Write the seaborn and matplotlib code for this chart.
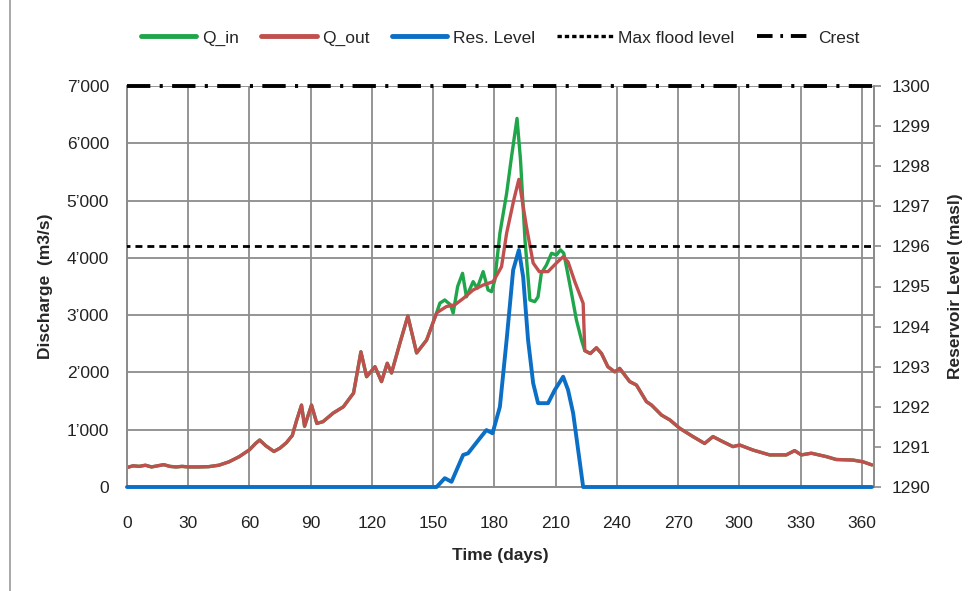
import matplotlib
matplotlib.use("Agg")
import matplotlib.pyplot as plt
from matplotlib.lines import Line2D
import seaborn as sns
import pandas as pd

# ---------------- data ----------------
out_days = [0, 3, 6, 9, 12, 15, 18, 21, 24, 27, 30, 35, 40, 45, 50, 55, 60, 63, 65, 68,
            72, 75, 78, 81, 83, 85.5, 87, 90.4, 93, 96, 101, 106, 111, 114.6, 117.4, 121.5,
            124.7, 127.5, 129.6, 133.7, 137.6, 141.9, 146.8, 151.7, 156.5, 160.6, 164.7,
            169.6, 174.5, 179.4, 183.5, 186, 189.5, 192, 195.7, 199, 202, 206.3, 210.4,
            213.7, 216.1, 219.4, 223.5, 224.3, 227, 230, 232.5, 235.6, 239, 241.4, 246.3,
            249.6, 254.5, 257, 261.9, 266, 270.8, 277.3, 283, 287.1, 292, 296.9, 300.2,
            306.7, 314.9, 323, 327.1, 330.4, 335.3, 342.7, 347.5, 355.7, 360.6, 365]
q_out = [340, 370, 360, 380, 350, 370, 390, 360, 350, 360, 350, 350, 355, 380, 440, 530,
         650, 760, 820, 720, 620, 680, 770, 900, 1150, 1430, 1060, 1430, 1110, 1140, 1290,
         1400, 1640, 2360, 1925, 2100, 1840, 2160, 1990, 2510, 2985, 2340, 2565, 3040, 3150,
         3180, 3290, 3440, 3525, 3585, 3845, 4430, 5010, 5370, 4545, 3910, 3760, 3760, 3910,
         4020, 3930, 3585, 3205, 2380, 2330, 2430, 2330, 2100, 2010, 2070, 1840, 1780, 1490,
         1430, 1255, 1170, 1025, 880, 760, 880, 790, 705, 733, 645, 560, 560, 635, 560, 590,
         530, 480, 470, 440, 385]

flood_days = [151.7, 153.3, 155.7, 158.5, 159.8, 162, 164.4, 166.3, 169.6, 171.6, 174.5,
              176.9, 178.6, 180.2, 182.7, 186, 188.4, 191.1, 192.8, 195, 197.4, 199.8,
              201.4, 203, 205.5, 208, 210.4, 212.4, 214, 215.3, 217.8, 220.2, 222.7, 224.3]
q_in_flood = [3040, 3210, 3265, 3180, 3035, 3500, 3730, 3320, 3585, 3470, 3760, 3440, 3410,
              3610, 4430, 5125, 5765, 6435, 5710, 4310, 3265, 3235, 3320, 3730, 3875, 4080,
              4050, 4140, 4080, 3845, 3380, 2915, 2565, 2380]

lvl_days = [0, 151.7, 155.7, 159, 164.7, 167.1, 172.8, 176.1, 179.1, 182.7, 186, 189.2,
            192, 194.1, 196.5, 199, 201.4, 206.3, 209.6, 213.7, 216.1, 218.6, 223.5, 365]
res_level = [1290, 1290, 1290.22, 1290.13, 1290.8, 1290.84, 1291.21, 1291.42, 1291.34,
             1292.0, 1293.67, 1295.41, 1295.91, 1295.24, 1293.67, 1292.59, 1292.09,
             1292.09, 1292.42, 1292.75, 1292.42, 1291.84, 1290.0, 1290]

max_flood_level = 1296
crest_level = 1300

x_ticks = list(range(0, 361, 30))
q_ticks = list(range(0, 7001, 1000))
q_tick_labels = ["0", "1’000", "2’000", "3’000", "4’000", "5’000", "6’000", "7’000"]
lvl_ticks = list(range(1290, 1301))

# Q_in equals Q_out outside the flood window
q_in_days = [d for d in out_days if d < flood_days[0]] + flood_days + \
            [d for d in out_days if d > flood_days[-1]]
q_in = [v for d, v in zip(out_days, q_out) if d < flood_days[0]] + q_in_flood + \
       [v for d, v in zip(out_days, q_out) if d > flood_days[-1]]

df_in = pd.DataFrame({"day": q_in_days, "q": q_in})
df_out = pd.DataFrame({"day": out_days, "q": q_out})
df_lvl = pd.DataFrame({"day": lvl_days, "lvl": res_level})

# ---------------- style ----------------
sns.set_style("white")
plt.rcParams["font.family"] = ["Liberation Sans", "DejaVu Sans"]

GREEN = "#1fa64a"
RED = "#c0504d"
BLUE = "#0b6fc6"
GRID = "#8c8c8c"
FS = 12.5

fig = plt.figure(figsize=(9.71, 5.91), dpi=100)
ax = fig.add_axes([127 / 971, 1 - 487 / 591, (874 - 127) / 971, (487 - 86) / 591])
ax2 = ax.twinx()

sns.lineplot(data=df_in, x="day", y="q", ax=ax, color=GREEN, lw=2.4, estimator=None)
sns.lineplot(data=df_out, x="day", y="q", ax=ax, color=RED, lw=2.4, estimator=None)

ax.set_xlim(0, 366)
ax.set_ylim(0, 7000)
ax.set_xticks(x_ticks)
ax.set_yticks(q_ticks)
ax.set_yticklabels(q_tick_labels)
ax.grid(True, color=GRID, lw=1.3)
ax.set_axisbelow(True)
ax.tick_params(axis="x", length=0, labelsize=FS, colors="#222222", pad=21)
ax.tick_params(axis="y", length=0, labelsize=FS, colors="#222222", pad=13)
ax.set_xlabel("Time (days)", fontsize=FS, fontweight="bold", labelpad=12)
ax.set_ylabel("Discharge  (m3/s)", fontsize=FS, fontweight="bold", labelpad=10)
for s in ["left", "right", "top", "bottom"]:
    ax.spines[s].set_color(GRID)
    ax.spines[s].set_linewidth(1.3)

sns.lineplot(data=df_lvl, x="day", y="lvl", ax=ax2, color=BLUE, lw=2.8, estimator=None)
for l in ax2.lines:
    l.set_clip_on(False)
    l.set_zorder(4)
ax2.axhline(max_flood_level, color="black", lw=2.0, ls=(0, (2.5, 1.8)), xmin=-0.005, zorder=5)
ax2.axhline(crest_level, color="black", lw=2.8, ls=(0, (6.0, 2.4, 0.8, 2.4)),
            clip_on=False, zorder=5)
ax2.set_ylim(1290, 1300)
ax2.set_yticks(lvl_ticks)
ax2.set_ylabel("Reservoir Level (masl)", fontsize=FS, fontweight="bold", labelpad=12)
ax2.tick_params(axis="y", length=5, width=1.2, labelsize=FS, pad=8)
ax2.tick_params(axis="y", labelcolor="#222222", color=GRID)
ax2.grid(False)
ax2.spines["top"].set_visible(False)
ax.spines["top"].set_visible(False)
for s in ["left", "right", "bottom"]:
    ax2.spines[s].set_color(GRID)
    ax2.spines[s].set_linewidth(1.3)

# legend
handles = [
    Line2D([], [], color=GREEN, lw=3.5),
    Line2D([], [], color=RED, lw=3.5),
    Line2D([], [], color=BLUE, lw=3.5),
    Line2D([], [], color="black", lw=2.4, ls=(0, (1.3, 0.9))),
    Line2D([], [], color="black", lw=2.8, ls=(0, (4.0, 2.0, 0.7, 2.0))),
]
labels = ["Q_in", "Q_out", "Res. Level", "Max flood level", "Crest"]
fig.legend(handles, labels, loc="center", bbox_to_anchor=(500 / 971, 1 - 38 / 591),
           ncol=5, frameon=False, fontsize=FS, handlelength=3.2, handletextpad=0.3,
           columnspacing=1.3)

# left border line of figure
fig.add_artist(Line2D([10 / 971, 10 / 971], [0.0, 1.0], color="#9a9a9a", lw=1.2,
                      transform=fig.transFigure))

fig.savefig("out.png", dpi=100)
